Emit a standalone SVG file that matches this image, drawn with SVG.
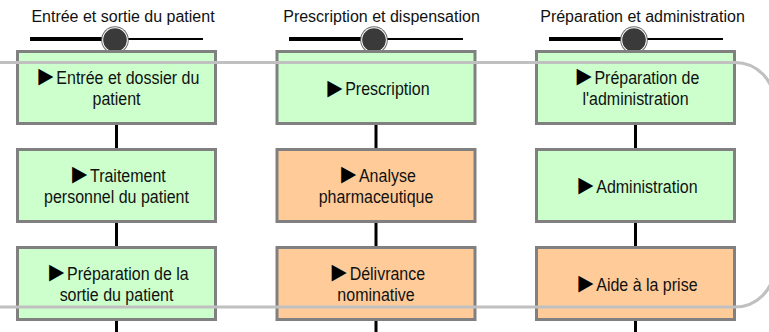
<svg xmlns="http://www.w3.org/2000/svg" width="769" height="332" viewBox="0 0 769 332">
  <style>
    .lane-title { font-family: "Liberation Sans", Arial, sans-serif; font-size: 16px; fill: #111; text-anchor: middle; }
    .label { font-family: "Liberation Sans", Arial, sans-serif; font-size: 16px; fill: #111; text-anchor: middle; }
    .tri { font-family: "Liberation Sans", Arial, sans-serif; font-size: 25px; fill: #000; }
    .box { stroke: #808080; stroke-width: 3; }
    .green { fill: #ccffcc; }
    .orange { fill: #ffcc99; }
    .link { stroke: #000; stroke-width: 3; fill: none; }
    .rail-thick { stroke: #000; stroke-width: 4; }
    .rail-thin { stroke: #000; stroke-width: 2; }
    .cycle { stroke: #c0c0c0; stroke-width: 3; fill: none; }
  </style>
  <defs>
    <g id="knob">
      <circle r="13.8" fill="#6a6a6a"/>
      <circle r="12.8" fill="#ffffff"/>
      <circle r="11.8" fill="#3a3a3a"/>
    </g>
  </defs>
  <rect width="769" height="332" fill="#ffffff"/>

  <!-- vertical links between steps -->
  <g id="connectors">
    <line class="link" x1="116.5" y1="40" x2="116.5" y2="332"/>
    <line class="link" x1="376" y1="40" x2="376" y2="332"/>
    <line class="link" x1="635.5" y1="40" x2="635.5" y2="332"/>
  </g>

  <!-- lane headers -->
  <g id="lane-entree">
    <text class="lane-title" x="123" y="22">Entrée et sortie du patient</text>
    <line class="rail-thick" x1="30" y1="39" x2="115" y2="39"/>
    <line class="rail-thin" x1="115" y1="39" x2="203" y2="39"/>
    <use href="#knob" x="115" y="40"/>
  </g>
  <g id="lane-prescription">
    <text class="lane-title" x="381.5" y="22">Prescription et dispensation</text>
    <line class="rail-thick" x1="289" y1="39" x2="374" y2="39"/>
    <line class="rail-thin" x1="374" y1="39" x2="463" y2="39"/>
    <use href="#knob" x="374" y="40"/>
  </g>
  <g id="lane-preparation">
    <text class="lane-title" x="642.5" y="22">Préparation et administration</text>
    <line class="rail-thick" x1="549" y1="39" x2="634" y2="39"/>
    <line class="rail-thin" x1="634" y1="39" x2="723" y2="39"/>
    <use href="#knob" x="634" y="40"/>
  </g>

  <!-- steps: column 1 -->
  <g id="entree-dossier">
    <rect class="box green" x="17.5" y="51.5" width="198" height="72"/>
  </g>
  <g id="traitement-personnel">
    <rect class="box green" x="17.5" y="149.5" width="198" height="72"/>
  </g>
  <g id="preparation-sortie">
    <rect class="box green" x="17.5" y="247.5" width="198" height="72"/>
  </g>

  <!-- steps: column 2 -->
  <g id="prescription">
    <rect class="box green" x="277" y="51.5" width="198" height="72"/>
  </g>
  <g id="analyse-pharmaceutique">
    <rect class="box orange" x="277" y="149.5" width="198" height="72"/>
  </g>
  <g id="delivrance-nominative">
    <rect class="box orange" x="277" y="247.5" width="198" height="72"/>
  </g>

  <!-- steps: column 3 -->
  <g id="preparation-administration">
    <rect class="box green" x="536.5" y="51.5" width="198" height="72"/>
  </g>
  <g id="administration">
    <rect class="box green" x="536.5" y="149.5" width="198" height="72"/>
  </g>
  <g id="aide-prise">
    <rect class="box orange" x="536.5" y="247.5" width="198" height="72"/>
  </g>

  <!-- circuit loop running across all steps -->
  <g id="cycle">
    <path class="cycle" d="M0,62.5 H735 A39,39 0 0 1 774,101.5 V268 A39,39 0 0 1 735,307 H0"/>
  </g>

  <!-- step labels: a bullet triangle leads each first line -->
  <g id="labels">
    <text class="label" transform="translate(116.5,83.5) scale(1,1.12)"><tspan x="0" y="0" dy="1.5" class="tri">►</tspan><tspan dx="-2" dy="-1.5">Entrée et dossier du</tspan><tspan x="0" y="19.6">patient</tspan></text>
    <text class="label" transform="translate(116.5,181.5) scale(1,1.12)"><tspan x="0" y="0" dy="1.5" class="tri">►</tspan><tspan dx="-2" dy="-1.5">Traitement</tspan><tspan x="0" y="19.6">personnel du patient</tspan></text>
    <text class="label" transform="translate(116.5,279.5) scale(1,1.12)"><tspan x="0" y="0" dy="1.5" class="tri">►</tspan><tspan dx="-2" dy="-1.5">Préparation de la</tspan><tspan x="0" y="19.6">sortie du patient</tspan></text>

    <text class="label" transform="translate(376,95) scale(1,1.12)"><tspan x="0" y="0" dy="1.5" class="tri">►</tspan><tspan dx="-2" dy="-1.5">Prescription</tspan></text>
    <text class="label" transform="translate(376,181.5) scale(1,1.12)"><tspan x="0" y="0" dy="1.5" class="tri">►</tspan><tspan dx="-2" dy="-1.5">Analyse</tspan><tspan x="0" y="19.6">pharmaceutique</tspan></text>
    <text class="label" transform="translate(376,279.5) scale(1,1.12)"><tspan x="0" y="0" dy="1.5" class="tri">►</tspan><tspan dx="-2" dy="-1.5">Délivrance</tspan><tspan x="0" y="19.6">nominative</tspan></text>

    <text class="label" transform="translate(635.5,83.5) scale(1,1.12)"><tspan x="0" y="0" dy="1.5" class="tri">►</tspan><tspan dx="-2" dy="-1.5">Préparation de</tspan><tspan x="0" y="19.6">l'administration</tspan></text>
    <text class="label" transform="translate(635.5,192.5) scale(1,1.12)"><tspan x="0" y="0" dy="1.5" class="tri">►</tspan><tspan dx="-2" dy="-1.5">Administration</tspan></text>
    <text class="label" transform="translate(635.5,290.5) scale(1,1.12)"><tspan x="0" y="0" dy="1.5" class="tri">►</tspan><tspan dx="-2" dy="-1.5">Aide à la prise</tspan></text>
  </g>
</svg>
